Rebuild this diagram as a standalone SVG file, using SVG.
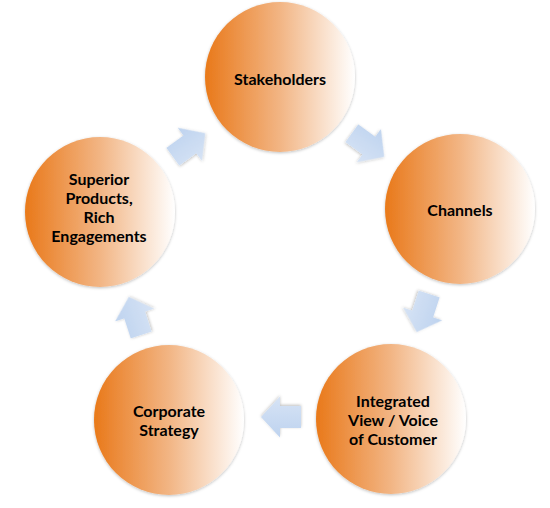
<svg xmlns="http://www.w3.org/2000/svg" width="550" height="508" viewBox="0 0 550 508">
  <defs>
    <linearGradient id="orange" x1="0" y1="0" x2="1" y2="0">
      <stop offset="0" stop-color="#E9791A"/>
      <stop offset="0.5" stop-color="#F2B584"/>
      <stop offset="1" stop-color="#FFFFFF"/>
    </linearGradient>
    <linearGradient id="blue" x1="0" y1="0" x2="0" y2="1">
      <stop offset="0" stop-color="#BED3EF"/>
      <stop offset="1" stop-color="#D6E3F5"/>
    </linearGradient>
    <filter id="shadow" x="-20%" y="-20%" width="140%" height="140%">
      <feDropShadow dx="0" dy="1" stdDeviation="1.5" flood-color="#000" flood-opacity="0.25"/>
    </filter>
    <path id="arrow" d="M20,0 L1,-20.5 L1,-11 L-20,-11 L-20,11 L1,11 L1,20.5 Z"/>
  </defs>
  <style>
    .node circle { fill: url(#orange); filter: url(#shadow); }
    .node text { font-family: Lato, "Open Sans", "Liberation Sans", sans-serif; font-weight: bold; font-size: 16px; fill: #000; text-anchor: middle; }
    .arr { fill: url(#blue); filter: url(#shadow); }
  </style>
  <rect width="550" height="508" fill="#FFFFFF"/>
  <g id="connectors">
    <use href="#arrow" class="arr" transform="translate(368,145) rotate(36)"/>
    <use href="#arrow" class="arr" transform="translate(423,313) rotate(108)"/>
    <use href="#arrow" class="arr" transform="translate(281,417) rotate(180)"/>
    <use href="#arrow" class="arr" transform="translate(135,316) rotate(252)"/>
    <use href="#arrow" class="arr" transform="translate(189,145) rotate(324)"/>
  </g>
  <g id="stakeholders" class="node">
    <circle cx="280" cy="77" r="75"/>
    <text x="280" y="85">Stakeholders</text>
  </g>
  <g id="channels" class="node">
    <circle cx="460" cy="209" r="75"/>
    <text x="460" y="216">Channels</text>
  </g>
  <g id="integrated" class="node">
    <circle cx="391" cy="419" r="75"/>
    <text x="393" y="407">Integrated</text>
    <text x="393" y="426">View / Voice</text>
    <text x="393" y="445">of Customer</text>
  </g>
  <g id="corporate" class="node">
    <circle cx="169" cy="420" r="75"/>
    <text x="169" y="417">Corporate</text>
    <text x="169" y="436">Strategy</text>
  </g>
  <g id="superior" class="node">
    <circle cx="100" cy="212" r="75"/>
    <text x="99" y="185">Superior</text>
    <text x="99" y="204">Products,</text>
    <text x="99" y="223">Rich</text>
    <text x="99" y="242">Engagements</text>
  </g>
</svg>
